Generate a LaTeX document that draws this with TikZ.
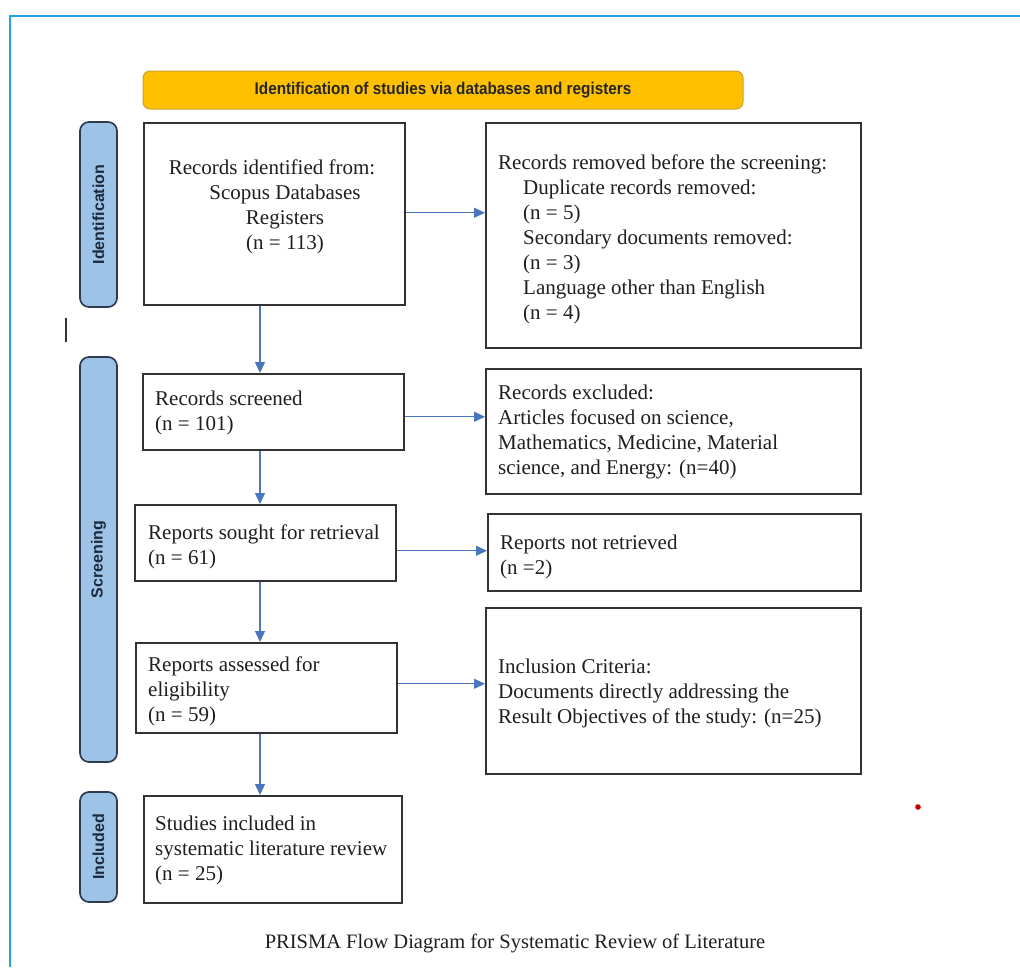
\documentclass[tikz,border=0pt]{standalone}
\usepackage{fontspec}
\setmainfont{Liberation Serif}
\setsansfont{Liberation Sans}
\newfontfamily\headfont{Liberation Sans}[FakeStretch=0.9]
\usetikzlibrary{arrows.meta}

\definecolor{framecol}{HTML}{1EA5E3}
\definecolor{hdrfill}{HTML}{FFC000}
\definecolor{hdrline}{HTML}{C8A032}
\definecolor{phasefill}{HTML}{9DC3E6}
\definecolor{phaseline}{HTML}{2E3B4E}
\definecolor{phasetext}{HTML}{1B2A3C}
\definecolor{flowcol}{HTML}{4A76BE}
\definecolor{boxline}{HTML}{333333}

\tikzset{
  stagebox/.style={draw=boxline, line width=1.5pt, fill=white, anchor=north west, inner sep=0pt},
  boxtext/.style={font=\fontsize{21}{25}\selectfont, align=left, inner sep=0pt, text=black!88, anchor=west},
  phase/.style={draw=phaseline, line width=1.7pt, fill=phasefill, rounded corners=9pt,
    rotate=90, minimum height=37pt, inner sep=0pt,
    font=\sffamily\bfseries\fontsize{16}{18}\selectfont, text=phasetext},
  flow/.style={draw=flowcol, line width=1.3pt, -{Triangle[length=11pt,width=10pt]}},
}

\begin{document}
\begin{tikzpicture}[x=1pt,y=-1pt]
\useasboundingbox (0,0) rectangle (1020,967);

% outer frame
\draw[framecol, line width=2pt] (10,967) -- (10,16) -- (1020,16);

% header bar
\node[draw=hdrline, line width=1pt, fill=hdrfill, rounded corners=7pt,
      minimum width=600pt, minimum height=38pt, inner sep=0pt,
      font=\headfont\bfseries\fontsize{17}{19}\selectfont, text=black!85] (hdr) at (443,90)
  {Identification of studies via databases and registers};

% phase labels
\node[phase, minimum width=185pt] (pid) at (98.5,214.5) {Identification};
\node[phase, minimum width=405pt] (pscr) at (98.5,559.5) {Screening};
\node[phase, minimum width=110pt] (pinc) at (98.5,847) {Included};

% small mark and dot
\draw[black!80, line width=1.2pt] (66,318) -- (66,342);
\fill[red!75!black] (918,807) circle (2.8pt);

% left column boxes
\node[stagebox, minimum width=261pt, minimum height=182pt] (b1) at (143,122) {};
\node[stagebox, minimum width=261pt, minimum height=76pt]  (b3) at (142,373) {};
\node[stagebox, minimum width=261pt, minimum height=76pt]  (b5) at (134,504) {};
\node[stagebox, minimum width=261pt, minimum height=90pt]  (b7) at (135,642) {};
\node[stagebox, minimum width=258pt, minimum height=107pt] (b9) at (143,795) {};

% right column boxes
\node[stagebox, minimum width=375pt, minimum height=225pt] (b2) at (485,122) {};
\node[stagebox, minimum width=375pt, minimum height=125pt] (b4) at (485,368) {};
\node[stagebox, minimum width=373pt, minimum height=77pt]  (b6) at (487,513) {};
\node[stagebox, minimum width=375pt, minimum height=166pt] (b8) at (485,607) {};

% texts
\node[boxtext, align=center, anchor=center] (t1) at (272,207)
  {Records identified from:\\ \hspace*{26pt}Scopus Databases\\ \hspace*{26pt}Registers\\ \hspace*{26pt}(n = 113)};
\node[boxtext] (t2) at (498,239)
  {Records removed before the screening:\\
   \hspace*{25pt}Duplicate records removed:\\
   \hspace*{25pt}(n = 5)\\
   \hspace*{25pt}Secondary documents removed:\\
   \hspace*{25pt}(n = 3)\\
   \hspace*{25pt}Language other than English\\
   \hspace*{25pt}(n = 4)};
\node[boxtext] (t3) at (155,412.5) {Records screened\\(n = 101)};
\node[boxtext] (t4) at (498,432)
  {Records excluded:\\Articles focused on science,\\Mathematics, Medicine, Material\\science, and Energy: (n=40)};
\node[boxtext] (t5) at (148,546.5) {Reports sought for retrieval\\(n = 61)};
\node[boxtext] (t6) at (500,556.5) {Reports not retrieved\\(n =2)};
\node[boxtext] (t7) at (148,691) {Reports assessed for\\eligibility\\(n = 59)};
\node[boxtext] (t8) at (498,693)
  {Inclusion Criteria:\\Documents directly addressing the\\Result Objectives of the study: (n=25)};
\node[boxtext] (t9) at (155,850) {Studies included in\\systematic literature review\\(n = 25)};

% caption
\node[font=\fontsize{20.5}{24}\selectfont, text=black!88, inner sep=0pt] (cap) at (515,943)
  {PRISMA Flow Diagram for Systematic Review of Literature};

% connectors
\coordinate (spine) at (260,0);
\draw[flow] (spine |- b1.south) -- (spine |- b3.north);
\draw[flow] (spine |- b3.south) -- (spine |- b5.north);
\draw[flow] (spine |- b5.south) -- (spine |- b7.north);
\draw[flow] (spine |- b7.south) -- (spine |- b9.north);
\draw[flow] ([yshift=1pt]b1.east) -- ([yshift=1pt]b1.east -| b2.west);
\draw[flow] ([yshift=-5pt]b3.east) -- ([yshift=-5pt]b3.east -| b4.west);
\draw[flow] ([yshift=-8pt]b5.east) -- ([yshift=-8pt]b5.east -| b6.west);
\draw[flow] ([yshift=4pt]b7.east) -- ([yshift=4pt]b7.east -| b8.west);
\end{tikzpicture}
\end{document}
